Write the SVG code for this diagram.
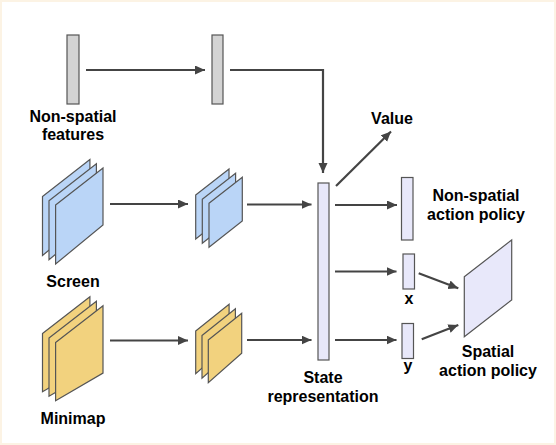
<svg xmlns="http://www.w3.org/2000/svg" width="556" height="445" viewBox="0 0 556 445">
<style>
.t{font-family:"Liberation Sans",Arial,sans-serif;font-weight:bold;font-size:16px;fill:#000;text-anchor:middle}
.gray{fill:#d3d3d3;stroke:#555;stroke-width:1.2}
.lav{fill:#e8e8fa;stroke:#555;stroke-width:1.2}
.blue{fill:#bad5f7;stroke:#555;stroke-width:1.2}
.yel{fill:#f2d27e;stroke:#555;stroke-width:1.2}
.c{fill:none;stroke:#444;stroke-width:2.2;marker-end:url(#ah)}
</style>
<defs>
<marker id="ah" markerUnits="userSpaceOnUse" markerWidth="11" markerHeight="10" refX="10" refY="4.5" orient="auto">
<path d="M0,0 L10,4.5 L0,9 Z" fill="#444"/>
</marker>
<path id="bigB" d="M0,0 L47.4,-37 L47.4,20 L0,59 Z"/>
<path id="bigY" d="M0,0 L47.4,-36.7 L47.4,30.6 L0,58.3 Z"/>
<path id="smB" d="M0,0 L33.3,-26 L33.3,17.7 L0,44 Z"/>
<path id="smY" d="M0,0 L33.4,-26.7 L33.4,13.3 L0,42.7 Z"/>
</defs>
<rect x="1" y="1" width="554" height="443" fill="#fff" stroke="#fcf3e4" stroke-width="2"/>

<g id="nonspatial-input">
<rect class="gray" x="67" y="35" width="12" height="69"/>
<text class="t" x="73" y="122">Non-spatial</text>
<text class="t" x="73" y="140">features</text>
</g>
<g id="nonspatial-hidden">
<rect class="gray" x="212" y="35" width="11" height="69"/>
</g>
<g id="screen">
<use href="#bigB" class="blue" x="42.5" y="196.5"/>
<use href="#bigB" class="blue" x="49" y="200.7"/>
<use href="#bigB" class="blue" x="55.6" y="205"/>
<text class="t" x="73" y="287">Screen</text>
</g>
<g id="screen-hidden">
<use href="#smB" class="blue" x="195.7" y="195"/>
<use href="#smB" class="blue" x="202.3" y="199.2"/>
<use href="#smB" class="blue" x="209" y="203.3"/>
</g>
<g id="minimap">
<use href="#bigY" class="yel" x="42.5" y="333.5"/>
<use href="#bigY" class="yel" x="49" y="338"/>
<use href="#bigY" class="yel" x="55.6" y="342.5"/>
<text class="t" x="73" y="424">Minimap</text>
</g>
<g id="minimap-hidden">
<use href="#smY" class="yel" x="195.7" y="331"/>
<use href="#smY" class="yel" x="202" y="335.5"/>
<use href="#smY" class="yel" x="208.3" y="340"/>
</g>
<g id="state">
<rect class="lav" x="318" y="183" width="11" height="177"/>
<text class="t" x="323" y="383">State</text>
<text class="t" x="323" y="402">representation</text>
</g>
<g id="value">
<text class="t" x="392" y="124">Value</text>
</g>
<g id="nonspatial-policy">
<rect class="lav" x="401.5" y="177.5" width="11.5" height="62.5"/>
<text class="t" x="476" y="201">Non-spatial</text>
<text class="t" x="476" y="220">action policy</text>
</g>
<g id="x">
<rect class="lav" x="403" y="254" width="11.5" height="35"/>
<text class="t" x="409" y="304">x</text>
</g>
<g id="y">
<rect class="lav" x="402" y="323.5" width="11.5" height="35"/>
<text class="t" x="408" y="371">y</text>
</g>
<g id="spatial-policy">
<path class="lav" d="M464.3,276.7 L511.7,240 L511.7,300 L464.3,336.7 Z"/>
<text class="t" x="488" y="357">Spatial</text>
<text class="t" x="488" y="376">action policy</text>
</g>

<g id="connectors">
<path class="c" d="M86,70 L205,70"/>
<path class="c" d="M230,70 L323,70 L323,173"/>
<path class="c" d="M110,204 L188,204"/>
<path class="c" d="M247,204.5 L311.5,204.5"/>
<path class="c" d="M110,340.5 L188,340.5"/>
<path class="c" d="M247,340 L311.5,340"/>
<path class="c" d="M336,186 L391,131.5"/>
<path class="c" d="M335,205 L397,205"/>
<path class="c" d="M335,271.5 L396.5,271.5"/>
<path class="c" d="M335,340 L396.5,340"/>
<path class="c" d="M418.7,273.3 L458.3,288.3"/>
<path class="c" d="M421.7,339.3 L458.3,325"/>
</g>
</svg>
